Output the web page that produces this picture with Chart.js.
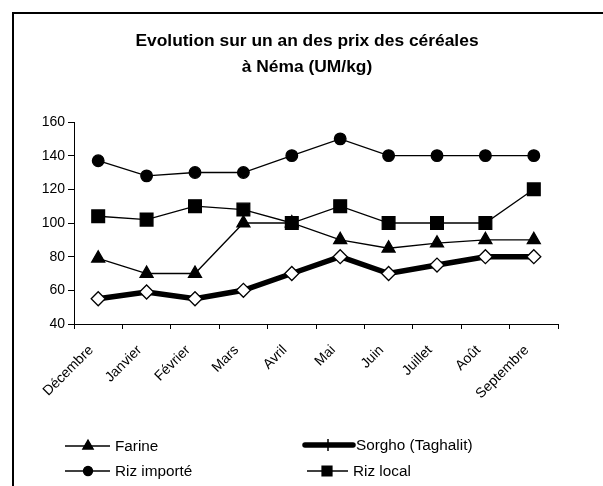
<!DOCTYPE html>
<html>
<head>
<meta charset="utf-8">
<script src="https://cdn.jsdelivr.net/npm/chart.js@4/dist/chart.umd.min.js"></script>
<style>
html,body{margin:0;padding:0;background:#fff;}
#wrap{position:relative;width:603px;height:486px;}
</style>
</head>
<body>
<div id="wrap"><canvas id="c" width="603" height="486"></canvas></div>
<script>
const months = ["Décembre","Janvier","Février","Mars","Avril","Mai","Juin","Juillet","Août","Septembre"];
const farine = [79,70,70,100,100,90,85,88,90,90];
const sorgho = [55,59,55,60,70,80,70,75,80,80];
const rizImporte = [137,128,130,130,140,150,140,140,140,140];
const rizLocal = [104,102,110,108,100,110,100,100,100,120];
const yTicks = [40,60,80,100,120,140,160];
const titleLines = ["Evolution sur un an des prix des céréales","à Néma (UM/kg)"];

const FONT = "'Liberation Sans', Arial, sans-serif";

const frame = {
  id:'frame',
  beforeDraw(chart){
    const ctx = chart.ctx;
    ctx.save();
    ctx.fillStyle='#fff';
    ctx.fillRect(0,0,chart.width,chart.height);
    ctx.strokeStyle='#000';
    ctx.lineWidth=2;
    ctx.beginPath();
    ctx.moveTo(13,486);ctx.lineTo(13,13);ctx.lineTo(603,13);
    ctx.stroke();
    // title
    ctx.fillStyle='#000';
    ctx.font='bold 17.4px '+FONT;
    ctx.textAlign='center';ctx.textBaseline='alphabetic';
    ctx.fillText(titleLines[0],307,46);
    ctx.fillText(titleLines[1],307,72);
    ctx.restore();
  }
};

// custom two-column legend
const legendSlots = [
  {ds:0, lx1:65, lx2:110, mx:88, tx:115, y:446},
  {ds:1, lx1:305, lx2:353, mx:328, tx:356, y:445},
  {ds:2, lx1:65, lx2:110, mx:88, tx:115, y:471},
  {ds:3, lx1:307, lx2:348, mx:327, tx:353, y:471}
];
const legendPlugin = {
  id:'legendCustom',
  afterDraw(chart){
    const ctx = chart.ctx;
    ctx.save();
    legendSlots.forEach(s=>{
      const d = chart.data.datasets[s.ds];
      ctx.strokeStyle='#000';
      ctx.lineWidth = d.borderWidth;
      ctx.lineCap = d.borderWidth>2 ? 'round':'butt';
      ctx.beginPath();ctx.moveTo(s.lx1,s.y);ctx.lineTo(s.lx2,s.y);ctx.stroke();
      ctx.lineCap='butt';
      if (d.legendMarker==='cross'){
        ctx.lineWidth=1.5;
        ctx.beginPath();ctx.moveTo(s.mx,s.y-6);ctx.lineTo(s.mx,s.y+6);ctx.stroke();
      } else {
        Chart.helpers.drawPoint(ctx,{pointStyle:d.pointStyle,radius:d.legendRadius,borderWidth:1},s.mx,s.y);
        ctx.fillStyle='#000';ctx.fill();
      }
      ctx.fillStyle='#000';
      ctx.font = '15.3px '+FONT;
      ctx.textBaseline='middle';ctx.textAlign='left';
      ctx.fillText(d.label,s.tx,s.y+1);
    });
    ctx.restore();
  }
};

new Chart(document.getElementById('c'),{
  type:'line',
  data:{
    labels:months,
    datasets:[
      {label:'Farine',data:farine,borderColor:'#000',borderWidth:1.3,pointStyle:'triangle',pointRadius:7.5,
       pointBackgroundColor:'#000',pointBorderColor:'#000',legendRadius:6,order:2},
      {label:'Sorgho (Taghalit)',data:sorgho,borderColor:'#000',borderWidth:5.5,pointStyle:'rectRot',pointRadius:7,
       pointBackgroundColor:'#fff',pointBorderColor:'#000',pointBorderWidth:1.3,legendMarker:'cross',order:1},
      {label:'Riz importé',data:rizImporte,borderColor:'#000',borderWidth:1.3,pointStyle:'circle',pointRadius:5.8,
       pointBackgroundColor:'#000',pointBorderColor:'#000',legendRadius:4.5,order:3},
      {label:'Riz local',data:rizLocal,borderColor:'#000',borderWidth:1.3,pointStyle:'rect',pointRadius:9,
       pointBackgroundColor:'#000',pointBorderColor:'#000',legendRadius:7,order:4}
    ]
  },
  options:{
    responsive:false,
    animation:false,
    devicePixelRatio:1,
    layout:{padding:{top:122,left:0,right:45,bottom:82}},
    elements:{line:{tension:0}},
    plugins:{
      legend:{display:false},
      tooltip:{enabled:false},
      title:{display:false}
    },
    scales:{
      x:{
        offset:true,
        grid:{display:true,drawOnChartArea:false,offset:true,color:'#000',tickLength:5,tickWidth:1},
        border:{color:'#000',width:1},
        ticks:{color:'#000',font:{family:FONT,size:14},minRotation:45,maxRotation:45,padding:13,labelOffset:-7,autoSkip:false},
        afterFit(s){s.height=80;}
      },
      y:{
        min:40,max:160,
        afterBuildTicks(s){s.ticks=yTicks.map(v=>({value:v}));},
        grid:{display:true,drawOnChartArea:false,color:'#000',tickLength:6},
        border:{color:'#000',width:1},
        ticks:{color:'#000',font:{family:FONT,size:14},padding:3},
        afterFit(s){s.width=74;}
      }
    }
  },
  plugins:[frame,legendPlugin]
});
</script>
</body>
</html>
